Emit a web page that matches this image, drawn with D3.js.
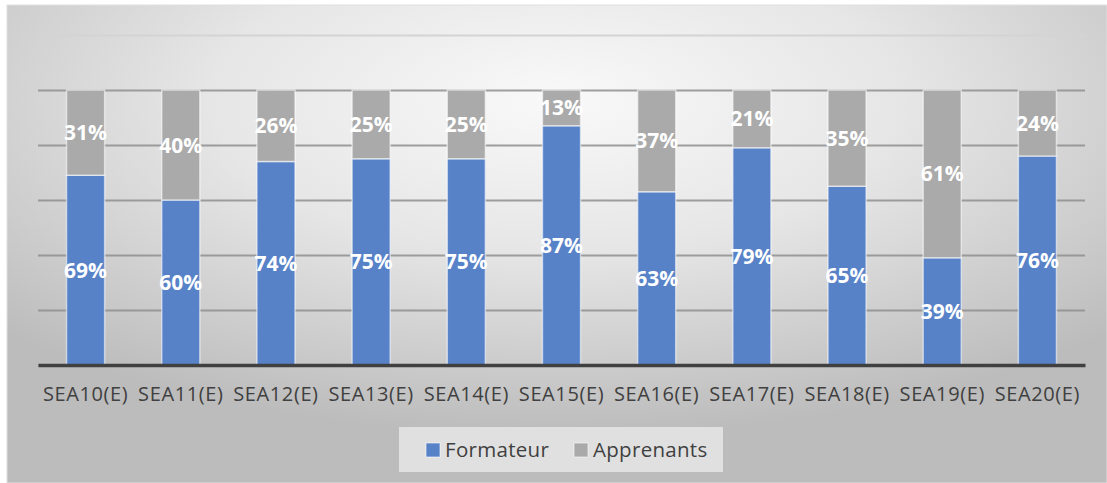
<!DOCTYPE html>
<html>
<head>
<meta charset="utf-8">
<script src="https://cdn.jsdelivr.net/npm/d3@7"></script>
<style>
  html, body { margin: 0; padding: 0; background: #fff; }
  svg { display: block; font-family: "Open Sans", "DejaVu Sans", sans-serif; }
  .cat text { font-size: 20px; letter-spacing: 0.6px; fill: #404040; }
  .lbl { font-size: 21px; font-weight: 700; fill: #fff; }
  .legend text { font-size: 20.5px; letter-spacing: 0.3px; fill: #404040; }
</style>
</head>
<body>
<svg id="chart"></svg>
<script>
const categories = ["SEA10(E)", "SEA11(E)", "SEA12(E)", "SEA13(E)", "SEA14(E)", "SEA15(E)",
  "SEA16(E)", "SEA17(E)", "SEA18(E)", "SEA19(E)", "SEA20(E)"];
const formateur = [69, 60, 74, 75, 75, 87, 63, 79, 65, 39, 76];
const apprenants = [31, 40, 26, 25, 25, 13, 37, 21, 35, 61, 24];
const seriesNames = ["Formateur", "Apprenants"];
const yTicks = [0, 0.2, 0.4, 0.6, 0.8, 1, 1.2];

const width = 1107;
const height = 483;
const colors = { Formateur: "#5882c8", Apprenants: "#aaaaaa" };

const svg = d3.select("#chart")
  .attr("width", width)
  .attr("height", height);

// radial grey background like the Excel chart area
const grad = svg.append("defs").append("radialGradient")
  .attr("id", "bg")
  .attr("cx", "50%").attr("cy", "20%").attr("r", "70%");
grad.append("stop").attr("offset", "0%").attr("stop-color", "#f9f9f9");
grad.append("stop").attr("offset", "45%").attr("stop-color", "#e6e6e6");
grad.append("stop").attr("offset", "100%").attr("stop-color", "#bcbcbc");

svg.append("rect")
  .attr("x", 7).attr("y", 5)
  .attr("width", width - 7).attr("height", height - 5)
  .attr("fill", "url(#bg)")
  .attr("stroke", "#e0e0e0")
  .attr("stroke-width", 1);

const x = d3.scaleBand()
  .domain(categories)
  .range([38, 1085])
  .paddingInner(0.6)
  .paddingOuter(0.3);

const y = d3.scaleLinear()
  .domain([0, 1.2])
  .range([365, 35]);

// gridlines
svg.append("g")
  .attr("transform", "translate(38,0)")
  .call(d3.axisLeft(y).tickValues(yTicks).tickSize(-(1085 - 38)).tickFormat(""))
  .call((g) => g.select(".domain").remove())
  .call((g) => g.selectAll(".tick line")
    .attr("stroke", (d) => (d > 1.1 ? "#d4d4d4" : "#8f8f8f"))
    .attr("stroke-opacity", (d) => (d > 1.1 ? 1 : 0.85))
    .attr("stroke-width", 2));

// stacked bars
const rows = categories.map((c, i) => ({
  cat: c,
  Formateur: formateur[i] / 100,
  Apprenants: apprenants[i] / 100,
}));
const stacked = d3.stack().keys(seriesNames)(rows);

const layers = svg.append("g")
  .selectAll("g")
  .data(stacked)
  .join("g")
  .attr("fill", (d) => colors[d.key]);

layers.selectAll("rect")
  .data((d) => d)
  .join("rect")
  .attr("x", (d) => x(d.data.cat))
  .attr("y", (d) => y(d[1]))
  .attr("width", x.bandwidth())
  .attr("height", (d) => y(d[0]) - y(d[1]))
  .attr("stroke", "rgba(255,255,255,0.55)")
  .attr("stroke-width", 1.5);

// data labels
stacked.forEach((s) => {
  svg.append("g")
    .selectAll("text")
    .data(s)
    .join("text")
    .attr("class", "lbl")
    .attr("x", (d) => x(d.data.cat) + x.bandwidth() / 2)
    .attr("y", (d) => (y(d[0]) + y(d[1])) / 2)
    .attr("dy", "0.36em")
    .attr("text-anchor", "middle")
    .text((d) => Math.round((d[1] - d[0]) * 100) + "%");
});

// baseline and category axis
svg.append("g")
  .attr("class", "cat")
  .attr("transform", "translate(0,365)")
  .call(d3.axisBottom(x).tickSize(0).tickPadding(22))
  .attr("font-family", null)
  .attr("font-size", null)
  .call((g) => g.select(".domain")
    .attr("stroke", "#404040")
    .attr("stroke-width", 3.5))
  .call((g) => g.selectAll("text").attr("fill", null));

// legend
const legend = svg.append("g").attr("class", "legend");
legend.append("rect")
  .attr("x", 399).attr("y", 427)
  .attr("width", 324).attr("height", 45)
  .attr("fill", "#e8e8e8")
  .attr("fill-opacity", 0.8);

const legendX = [426, 574];
seriesNames.forEach((name, i) => {
  legend.append("rect")
    .attr("x", legendX[i]).attr("y", 443)
    .attr("width", 14).attr("height", 14)
    .attr("fill", colors[name])
    .attr("stroke", "rgba(255,255,255,0.6)");
  legend.append("text")
    .attr("x", legendX[i] + 19).attr("y", 450)
    .attr("dy", "0.35em")
    .text(name);
});
</script>
</body>
</html>
